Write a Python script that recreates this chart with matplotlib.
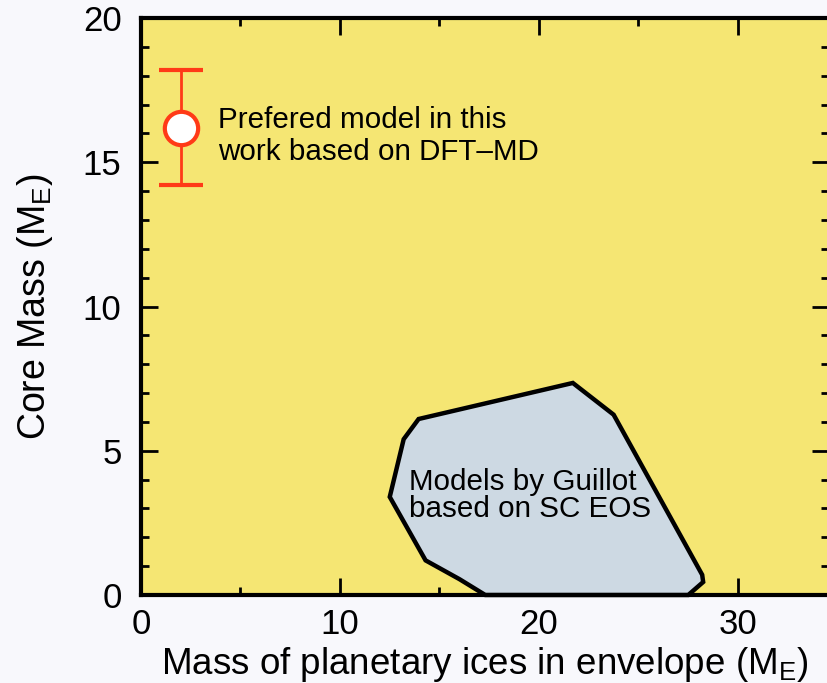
import matplotlib
matplotlib.use("Agg")
import matplotlib.pyplot as plt
from matplotlib.patches import Polygon
from matplotlib.ticker import MultipleLocator

plt.rcParams["font.family"] = "Liberation Sans"
plt.rcParams["mathtext.fontset"] = "custom"
plt.rcParams["mathtext.rm"] = "Liberation Sans"
plt.rcParams["mathtext.it"] = "Liberation Sans"

# Data
pref_x = [2.0]
pref_y = [16.2]
pref_err = [2.0]

guillot_x = [17.3, 27.5, 28.25, 28.2, 23.75, 21.7, 13.95, 13.2, 12.5, 14.3, 16.0]
guillot_y = [0.0, 0.0, 0.45, 0.7, 6.25, 7.35, 6.1, 5.4, 3.4, 1.2, 0.55]

bg_color = "#f5e673"
poly_color = "#cdd9e3"
red = "#ff3a17"

fig = plt.figure(figsize=(8.27, 6.83), dpi=100, facecolor="#f8f8fc")
ax = fig.add_axes([141 / 827, 88 / 683, (829 - 141) / 827, (595 - 18) / 683])
ax.set_facecolor(bg_color)

ax.add_patch(Polygon(list(zip(guillot_x, guillot_y)), closed=True,
                     facecolor=poly_color, edgecolor="black", linewidth=3.2,
                     joinstyle="miter", zorder=2, clip_on=False))

ax.errorbar(pref_x, pref_y, yerr=pref_err, fmt="o", color=red, ecolor=red,
            elinewidth=2, capsize=16, capthick=2, markersize=24,
            markerfacecolor="white", markeredgecolor=red, markeredgewidth=3,
            zorder=4)

ax.text(3.87, 15.9, "Prefered model in this\nwork based on DFT\u2013MD",
        fontsize=21.3, va="center", ha="left", linespacing=1.2)
ax.text(13.45, 3.45, "Models by Guillot\nbased on SC EOS",
        fontsize=21.3, va="center", ha="left", linespacing=0.95, zorder=3)

ax.set_xlim(0, (829 - 141) / 19.9)
ax.set_ylim(0, 20)
ax.xaxis.set_major_locator(MultipleLocator(10))
ax.xaxis.set_minor_locator(MultipleLocator(5))
ax.yaxis.set_major_locator(MultipleLocator(5))
ax.yaxis.set_minor_locator(MultipleLocator(1))
ax.tick_params(which="both", direction="in", top=True, right=True, width=2,
               labelsize=25)
ax.tick_params(axis="x", which="both", pad=9)
ax.tick_params(axis="y", which="both", pad=14)
ax.tick_params(which="major", length=12)
ax.tick_params(which="minor", length=6)
for s in ax.spines.values():
    s.set_linewidth(3)

ax.set_xlabel(r"Mass of planetary ices in envelope (M$_\mathrm{E}$)",
              fontsize=26.5, labelpad=3)
ax.set_ylabel(r"Core Mass (M$_\mathrm{E}$)", fontsize=27, labelpad=20)

fig.savefig("out.png", dpi=100, facecolor=fig.get_facecolor())
